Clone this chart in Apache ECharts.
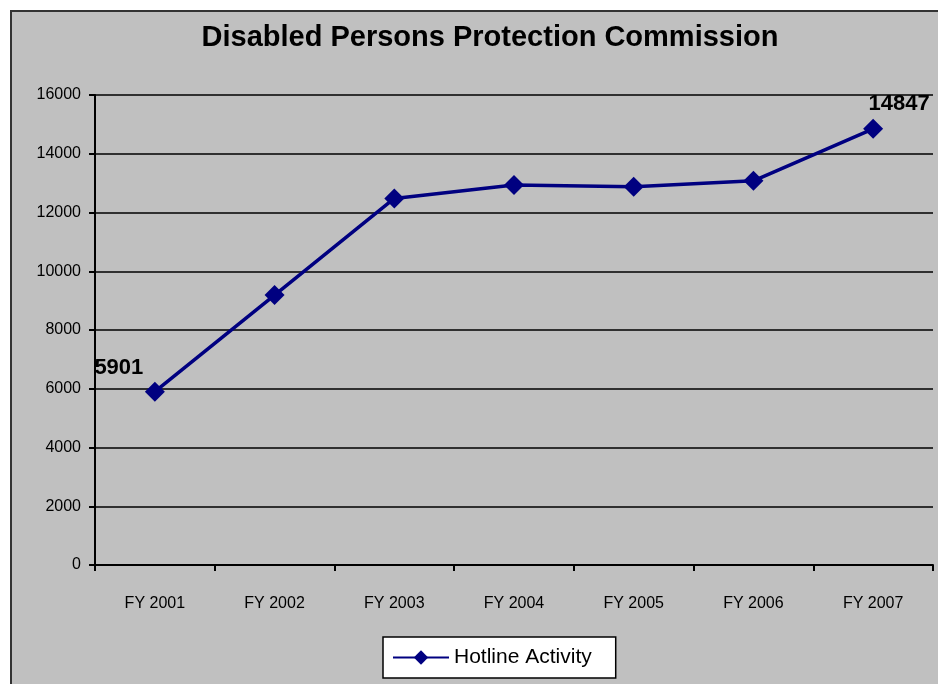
<!DOCTYPE html>
<html>
<head>
<meta charset="utf-8">
<script src="https://cdn.jsdelivr.net/npm/echarts@6/dist/echarts.min.js"></script>
<style>html,body{margin:0;padding:0;background:#fff;}#c{width:938px;height:684px;}</style>
</head>
<body>
<div id="c"></div>
<script>
const categories = ['FY 2001','FY 2002','FY 2003','FY 2004','FY 2005','FY 2006','FY 2007'];
const hotline = [5901, 9190, 12480, 12940, 12880, 13080, 14847];
const yTicks = [0, 2000, 4000, 6000, 8000, 10000, 12000, 14000, 16000];
const labelled = {0: 'left', 6: 'right'};

const chart = echarts.init(document.getElementById('c'));
const font = '"Liberation Sans", Arial, sans-serif';
chart.setOption({
  backgroundColor: '#ffffff',
  animation: false,
  graphic: [{
    type: 'rect', z: -10,
    shape: {x: 11, y: 11, width: 940, height: 690},
    style: {fill: '#c0c0c0', stroke: '#333333', lineWidth: 2}
  }],
  title: {
    text: 'Disabled Persons Protection Commission',
    left: 485, textAlign: 'center', top: 18,
    textStyle: {fontFamily: font, fontSize: 29, fontWeight: 'bold', color: '#000'}
  },
  legend: {
    left: 383, top: 637, width: 235,
    backgroundColor: '#ffffff', borderColor: '#000', borderWidth: 1.5,
    padding: [10, 24, 10, 9],
    itemWidth: 56, itemHeight: 18, itemGap: 6,
    textStyle: {fontFamily: font, fontSize: 21, color: '#000'},
    data: ['Hotline Activity']
  },
  grid: {left: 95, right: 5, top: 95, bottom: 119},
  xAxis: {
    type: 'category', data: categories, boundaryGap: true,
    axisLine: {lineStyle: {color: '#000', width: 2}},
    axisTick: {show: true, length: 6, lineStyle: {color: '#000', width: 2}},
    axisLabel: {fontFamily: font, fontSize: 16, color: '#000', margin: 31}
  },
  yAxis: {
    type: 'value', min: 0, max: 16000, interval: 2000,
    axisLine: {show: true, lineStyle: {color: '#000', width: 2}},
    axisTick: {show: true, length: 6, lineStyle: {color: '#000', width: 2}},
    splitLine: {lineStyle: {color: '#000', width: 1.5}},
    axisLabel: {fontFamily: font, fontSize: 16, color: '#000', margin: 14,
      formatter: v => yTicks.includes(v) ? String(v) : ''}
  },
  series: [{
    name: 'Hotline Activity', type: 'line', data: hotline.map((v, i) => ({
      value: v,
      label: labelled[i] ? {
        show: true, position: 'top',
        offset: labelled[i] === 'left' ? [-36, 2] : [26, 1]
      } : {show: false}
    })),
    symbol: 'diamond', symbolSize: 20,
    lineStyle: {color: '#000080', width: 3.5},
    itemStyle: {color: '#000080'},
    label: {fontFamily: font, fontSize: 22, fontWeight: 'bold', color: '#000'}
  }]
});
</script>
</body>
</html>
